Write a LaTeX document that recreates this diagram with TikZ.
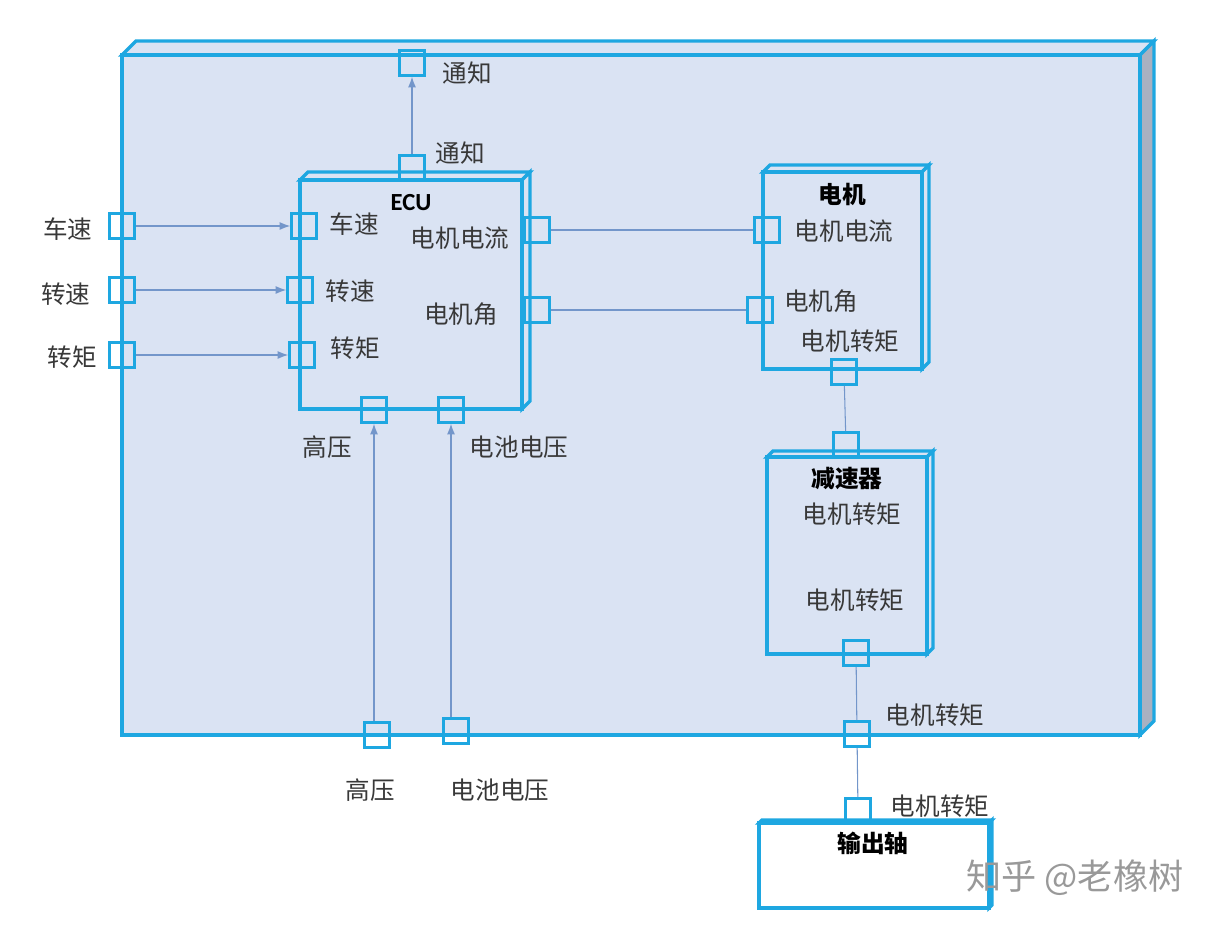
\documentclass[tikz,border=0pt]{standalone}
\usepackage{fontspec}
\setmainfont{Carlito}
\newfontfamily\cjk{Noto Sans CJK SC}
\usetikzlibrary{arrows.meta}
\definecolor{edgecyan}{HTML}{1EA7E1}
\definecolor{boxfill}{HTML}{DAE3F3}
\definecolor{sidegray}{HTML}{A9B1C1}
\definecolor{flowblue}{HTML}{7396CA}

\begin{document}
\begin{tikzpicture}[x=0.02cm, y=-0.02cm,
  face/.style={draw=edgecyan, line width=1.9pt, line join=miter},
  port/.style={draw=edgecyan, line width=1.5pt, minimum size=0.5cm, inner sep=0pt},
  lbl/.style={font=\cjk\fontsize{14}{16}\selectfont, text=black!78},
  title/.style={font=\cjk\bfseries\fontsize{13.5}{16}\selectfont},
  flow/.style={draw=flowblue, line width=0.6pt, -{Latex[length=6pt,width=4.5pt]}},
  link/.style={draw=flowblue, line width=0.6pt}]
  \useasboundingbox (0,0) rectangle (1217,927);
  % 整车外框
  \draw[face, fill=boxfill]  (122,55) -- (136,41) -- (1154,41) -- (1140,55) -- cycle;
  \draw[face, fill=sidegray] (1140,55) -- (1154,41) -- (1154,721) -- (1140,735) -- cycle;
  \draw[face, fill=boxfill]  (122,55) rectangle (1140,735);
  % ECU
  \draw[face, fill=boxfill] (300,180) -- (308,172) -- (530,172) -- (522,180) -- cycle;
  \draw[face, fill=boxfill] (522,180) -- (530,172) -- (530,401) -- (522,409) -- cycle;
  \draw[face, fill=boxfill] (300,180) rectangle (522,409);
  \node[font=\bfseries\fontsize{14}{16}\selectfont] (ecuT) at (411,203) {ECU};
  % 电机
  \draw[face, fill=boxfill] (763,172) -- (770,165) -- (929,165) -- (922,172) -- cycle;
  \draw[face, fill=boxfill] (922,172) -- (929,165) -- (929,362) -- (922,369) -- cycle;
  \draw[face, fill=boxfill] (763,172) rectangle (922,369);
  \node[title] (motT) at (842,194) {电机};
  % 减速器
  \draw[face, fill=boxfill] (767,457) -- (773,451) -- (933,451) -- (927,457) -- cycle;
  \draw[face, fill=boxfill] (927,457) -- (933,451) -- (933,648) -- (927,654) -- cycle;
  \draw[face, fill=boxfill] (767,457) rectangle (927,654);
  \node[title] (redT) at (847,478) {减速器};
  % 输出轴
  \draw[face, fill=white] (759,823) -- (762,820) -- (992,820) -- (989,823) -- cycle;
  \draw[face, fill=white] (989,823) -- (992,820) -- (992,905) -- (989,908) -- cycle;
  \draw[face, fill=white] (759,823) rectangle (989,908);
  \node[title] (shaftT) at (873,843) {输出轴};

  % 端口
  \node[port] (outN)   at (412,63)  {};
  \node[port] (ecuN)   at (412,168) {};
  \node[port] (outV)   at (122,226) {};
  \node[port] (ecuV)   at (304,226) {};
  \node[port] (outR)   at (122,290) {};
  \node[port] (ecuR)   at (300,290) {};
  \node[port] (outTq)  at (122,355) {};
  \node[port] (ecuTq)  at (302,355) {};
  \node[port] (ecuI)   at (537,230) {};
  \node[port] (ecuA)   at (537,310) {};
  \node[port] (ecuHV)  at (374,410) {};
  \node[port] (ecuBV)  at (451,410) {};
  \node[port] (outHV)  at (377,735) {};
  \node[port] (outBV)  at (456,731) {};
  \node[port] (motI)   at (767,230) {};
  \node[port] (motA)   at (760,310) {};
  \node[port] (motTq)  at (844,372) {};
  \node[port] (redIn)  at (846,445) {};
  \node[port] (redOut) at (856,653) {};
  \node[port] (outMT)  at (857,734) {};
  \node[port] (shaftIn) at (858,811) {};

  % 连线
  \draw[flow] (ecuN) -- (outN);
  \draw[flow] (outV) -- (ecuV);
  \draw[flow] (outR) -- (ecuR);
  \draw[flow] (outTq) -- (ecuTq);
  \draw[flow] (outHV.north -| ecuHV) -- (ecuHV);
  \draw[flow] (outBV.north -| ecuBV) -- (ecuBV);
  \draw[link] (ecuI) -- (motI);
  \draw[link] (ecuA) -- (motA);
  \draw[link] (motTq) -- (redIn);
  \draw[link] (redOut) -- (outMT);
  \draw[link] (outMT) -- (shaftIn);

  % 标签
  \node[lbl] (lOutN)  at (467,73)  {通知};
  \node[lbl] (lEcuN)  at (460,153) {通知};
  \node[lbl] (lOutV)  at (68,229)  {车速};
  \node[lbl] (lOutR)  at (66,294)  {转速};
  \node[lbl] (lOutTq) at (72,357)  {转矩};
  \node[lbl] (lEcuV)  at (354,224) {车速};
  \node[lbl] (lEcuR)  at (350,291) {转速};
  \node[lbl] (lEcuTq) at (355,348) {转矩};
  \node[lbl] (lEcuI)  at (460,238) {电机电流};
  \node[lbl] (lEcuA)  at (461,314) {电机角};
  \node[lbl] (lEcuHV) at (327,447) {高压};
  \node[lbl] (lEcuBV) at (519,447) {电池电压};
  \node[lbl] (lOutHV) at (370,790) {高压};
  \node[lbl] (lOutBV) at (500,790) {电池电压};
  \node[lbl] (lMotI)  at (844,231) {电机电流};
  \node[lbl] (lMotA)  at (821,301) {电机角};
  \node[lbl] (lMotTq) at (850,341) {电机转矩};
  \node[lbl] (lRedIn) at (852,514) {电机转矩};
  \node[lbl] (lRedOut) at (855,600) {电机转矩};
  \node[lbl] (lOutMT) at (935,715) {电机转矩};
  \node[lbl] (lShaft) at (940,806) {电机转矩};
  \node[font=\cjk\fontsize{20}{22}\selectfont, text=black!40] (mark) at (1075,878) {知乎 @老橡树};
\end{tikzpicture}
\end{document}
